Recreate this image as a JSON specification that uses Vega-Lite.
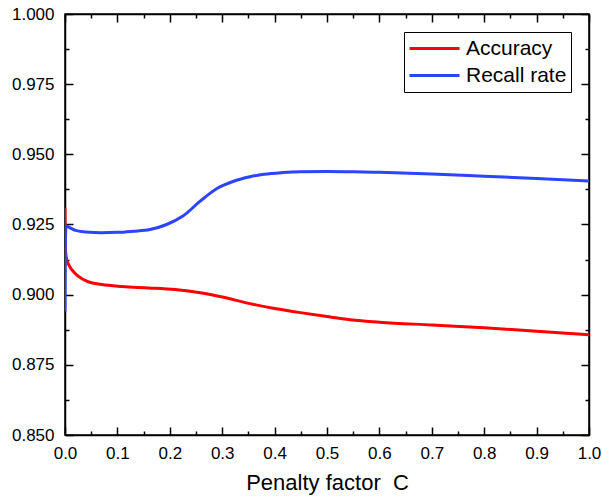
{
  "$schema": "https://vega.github.io/schema/vega-lite/v6.json",
  "width": 524,
  "height": 421,
  "autosize": {"type": "none"},
  "padding": {"left": 65, "top": 14, "right": 13, "bottom": 61},
  "background": "white",
  "config": {
    "view": {"stroke": "black", "strokeWidth": 1.5},
    "font": "Liberation Sans",
    "axis": {"grid": false, "domainColor": "black", "domainWidth": 1.5, "tickColor": "black", "tickWidth": 1.5, "labelColor": "black", "labelFont": "Liberation Sans", "labelFontSize": 17, "titleFont": "Liberation Sans", "titleFontSize": 22, "titleFontWeight": "normal", "titleColor": "black", "labelOverlap": false, "labelFlush": false}
  },
  "data": {"values": [
    {"C": 0, "v": 0.931, "s": "Accuracy"},
    {"C": 0.001, "v": 0.9155, "s": "Accuracy"},
    {"C": 0.003, "v": 0.9128, "s": "Accuracy"},
    {"C": 0.007, "v": 0.9107, "s": "Accuracy"},
    {"C": 0.013, "v": 0.9089, "s": "Accuracy"},
    {"C": 0.025, "v": 0.9066, "s": "Accuracy"},
    {"C": 0.044, "v": 0.9046, "s": "Accuracy"},
    {"C": 0.07, "v": 0.9036, "s": "Accuracy"},
    {"C": 0.109, "v": 0.9029, "s": "Accuracy"},
    {"C": 0.16, "v": 0.9024, "s": "Accuracy"},
    {"C": 0.21, "v": 0.9018, "s": "Accuracy"},
    {"C": 0.258, "v": 0.9007, "s": "Accuracy"},
    {"C": 0.3, "v": 0.8992, "s": "Accuracy"},
    {"C": 0.353, "v": 0.8968, "s": "Accuracy"},
    {"C": 0.4, "v": 0.8951, "s": "Accuracy"},
    {"C": 0.449, "v": 0.8936, "s": "Accuracy"},
    {"C": 0.5, "v": 0.8922, "s": "Accuracy"},
    {"C": 0.544, "v": 0.8911, "s": "Accuracy"},
    {"C": 0.6, "v": 0.8902, "s": "Accuracy"},
    {"C": 0.7, "v": 0.8892, "s": "Accuracy"},
    {"C": 0.8, "v": 0.8882, "s": "Accuracy"},
    {"C": 0.9, "v": 0.8870, "s": "Accuracy"},
    {"C": 1.0, "v": 0.8857, "s": "Accuracy"},
    {"C": 0, "v": 0.894, "s": "Recall rate"},
    {"C": 0.0005, "v": 0.915, "s": "Recall rate"},
    {"C": 0.002, "v": 0.9245, "s": "Recall rate"},
    {"C": 0.008, "v": 0.9240, "s": "Recall rate"},
    {"C": 0.02, "v": 0.9229, "s": "Recall rate"},
    {"C": 0.04, "v": 0.9223, "s": "Recall rate"},
    {"C": 0.07, "v": 0.9221, "s": "Recall rate"},
    {"C": 0.1, "v": 0.9222, "s": "Recall rate"},
    {"C": 0.13, "v": 0.9226, "s": "Recall rate"},
    {"C": 0.162, "v": 0.9232, "s": "Recall rate"},
    {"C": 0.194, "v": 0.9250, "s": "Recall rate"},
    {"C": 0.225, "v": 0.9280, "s": "Recall rate"},
    {"C": 0.258, "v": 0.9333, "s": "Recall rate"},
    {"C": 0.29, "v": 0.9378, "s": "Recall rate"},
    {"C": 0.323, "v": 0.9405, "s": "Recall rate"},
    {"C": 0.353, "v": 0.9420, "s": "Recall rate"},
    {"C": 0.38, "v": 0.9429, "s": "Recall rate"},
    {"C": 0.416, "v": 0.9435, "s": "Recall rate"},
    {"C": 0.45, "v": 0.9438, "s": "Recall rate"},
    {"C": 0.5, "v": 0.9439, "s": "Recall rate"},
    {"C": 0.55, "v": 0.9438, "s": "Recall rate"},
    {"C": 0.6, "v": 0.9436, "s": "Recall rate"},
    {"C": 0.7, "v": 0.9430, "s": "Recall rate"},
    {"C": 0.8, "v": 0.9422, "s": "Recall rate"},
    {"C": 0.9, "v": 0.9414, "s": "Recall rate"},
    {"C": 1.0, "v": 0.9405, "s": "Recall rate"}
  ]},
  "resolve": {"axis": {"x": "independent", "y": "independent"}},
  "layer": [
    {
      "mark": {"type": "line", "strokeWidth": 3, "interpolate": "monotone", "clip": true},
      "encoding": {
        "x": {"field": "C", "type": "quantitative", "scale": {"domain": [0, 1], "nice": false, "zero": false},
          "axis": {"orient": "bottom", "title": "Penalty factor \u00a0C", "titlePadding": 7,
            "values": [0,0.05,0.1,0.15,0.2,0.25,0.3,0.35,0.4,0.45,0.5,0.55,0.6,0.65,0.7,0.75,0.8,0.85,0.9,0.95,1.0],
            "format": ".1f", "labelExpr": "round(datum.value*20)%2==1 ? '' : datum.label",
            "tickSize": {"condition": {"test": "round(datum.value*20)%2==1", "value": -4}, "value": -8},
            "labelPadding": 18}},
        "y": {"field": "v", "type": "quantitative", "scale": {"domain": [0.85, 1.0], "nice": false, "zero": false},
          "axis": {"orient": "left", "title": null,
            "values": [0.85,0.8625,0.875,0.8875,0.9,0.9125,0.925,0.9375,0.95,0.9625,0.975,0.9875,1.0],
            "format": ".3f", "labelExpr": "round(datum.value*80)%2==1 ? '' : datum.label",
            "tickSize": {"condition": {"test": "round(datum.value*80)%2==1", "value": -4}, "value": -8},
            "labelPadding": 19}},
        "color": {"field": "s", "type": "nominal",
          "scale": {"domain": ["Accuracy", "Recall rate"], "range": ["#ff0000", "#2a44ff"]},
          "legend": {"title": null, "orient": "none", "legendX": 339, "legendY": 18,
            "symbolType": "stroke", "symbolSize": 2500, "symbolStrokeWidth": 3, "clipHeight": 25,
            "labelFontSize": 21, "labelFont": "Liberation Sans", "labelColor": "black",
            "strokeColor": "black", "padding": 4, "rowPadding": 2, "labelOffset": 5}}
      }
    },
    {
      "mark": {"type": "line", "opacity": 0},
      "encoding": {
        "x": {"field": "C", "type": "quantitative",
          "axis": {"orient": "top", "title": null, "labels": false,
            "values": [0,0.05,0.1,0.15,0.2,0.25,0.3,0.35,0.4,0.45,0.5,0.55,0.6,0.65,0.7,0.75,0.8,0.85,0.9,0.95,1.0],
            "tickSize": {"condition": {"test": "round(datum.value*20)%2==1", "value": -4}, "value": -8}}},
        "y": {"field": "v", "type": "quantitative",
          "axis": {"orient": "right", "title": null, "labels": false,
            "values": [0.85,0.8625,0.875,0.8875,0.9,0.9125,0.925,0.9375,0.95,0.9625,0.975,0.9875,1.0],
            "tickSize": {"condition": {"test": "round(datum.value*80)%2==1", "value": -4}, "value": -8}}},
        "detail": {"field": "s"}
      }
    }
  ]
}
